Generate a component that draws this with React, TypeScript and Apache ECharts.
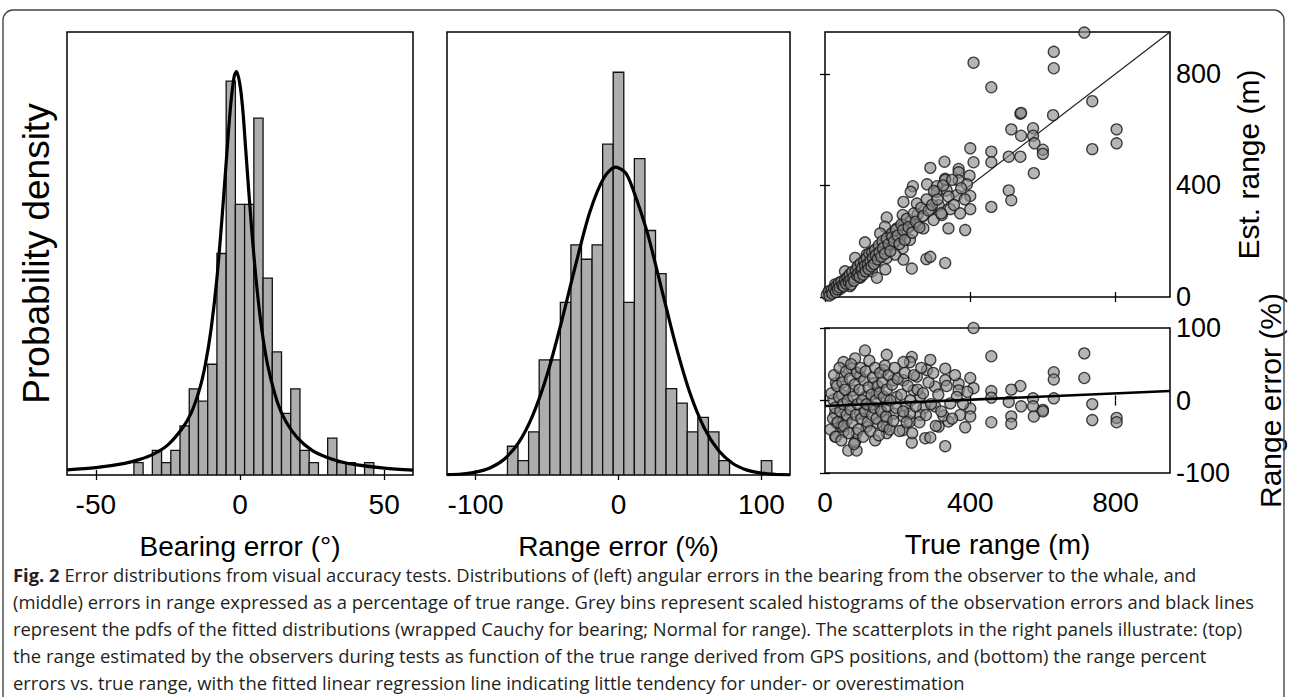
import React, { useEffect, useRef } from "react";
import * as echarts from "echarts";

// ---------- data ----------
const bearingTicks = [-50, 0, 50];
const bearingBinWidth = 3.2;
const bearingBinCenters = [-35.2, -28.8, -25.6, -22.4, -19.2, -16, -12.8, -9.6, -6.4, -3.2, 0, 3.2, 6.4, 9.6, 12.8, 16, 19.2, 22.4, 25.6, 32, 35.2, 38.4, 44.8];
const bearingCounts = [1, 2, 1, 2, 4, 7, 6, 9, 18, 32, 22, 22, 29, 16, 10, 5, 7, 2, 1, 3, 1, 1, 1];
const bearingCurve = [
  [-60, 0.42], [-50, 0.6], [-40, 0.95], [-35, 1.25], [-30, 1.7], [-25, 2.45], [-20, 3.8], [-17, 5.0], [-14, 7.0],
  [-12, 9.0], [-10, 11.9], [-8, 16.0], [-6, 21.6], [-4, 27.9], [-3, 30.6], [-2, 32.4], [-1.2, 32.8], [0, 31.7],
  [1, 29.6], [2, 26.4], [4, 20.1], [6, 14.9], [8, 11.1], [10, 8.5], [13, 5.9], [16, 4.3], [20, 3.0], [25, 2.0],
  [30, 1.45], [35, 1.08], [40, 0.84], [50, 0.56], [60, 0.4],
];

const rangeTicks = [-100, 0, 100];
const rangeBinWidth = 7.4;
const rangeBinCenters = [-74, -66.6, -59.2, -51.8, -44.4, -37, -29.6, -22.2, -14.8, -7.4, 0, 7.4, 14.8, 22.2, 29.6, 37, 44.4, 51.8, 59.2, 66.6, 74, 103.6];
const rangeCounts = [2, 1, 3, 8, 8, 12, 16, 15, 16, 23, 28, 12, 22, 17, 14, 6, 5, 3, 4, 3, 1, 1];
const rangeCurve = [
  [-120, 0.02], [-110, 0.07], [-100, 0.2], [-90, 0.49], [-80, 1.1], [-70, 2.23], [-60, 4.15], [-50, 6.95],
  [-40, 10.6], [-30, 14.6], [-20, 18.3], [-10, 20.7], [-2, 21.4], [5, 21.0], [10, 19.9], [20, 16.9], [30, 13.0],
  [40, 9.05], [50, 5.7], [60, 3.27], [70, 1.7], [80, 0.8], [90, 0.34], [100, 0.13], [110, 0.04], [120, 0.015],
];

const trueRangeTicks = [0, 400, 800];
const estRangeTicks = [0, 400, 800];
const rangeErrTicks = [-100, 0, 100];

const estRangePoints = [
  [714, 948], [409, 840], [630, 879], [630, 820], [458, 752], [736, 702], [538, 657], [540, 660], [628, 652],
  [513, 601], [573, 605], [540, 578], [803, 601], [803, 551], [736, 530], [573, 578], [577, 551], [600, 528],
  [600, 513], [400, 533], [458, 521], [506, 503], [538, 503], [458, 483], [409, 483], [575, 444], [329, 485],
  [290, 463], [368, 459], [368, 447], [398, 435], [331, 424], [331, 420], [368, 418], [391, 404], [281, 404],
  [242, 397], [236, 377], [308, 397], [308, 377], [335, 382], [363, 365], [400, 362], [506, 382], [513, 347],
  [458, 323], [400, 315], [372, 300], [345, 315], [313, 329], [290, 315], [253, 335], [216, 341], [214, 294],
  [234, 270], [255, 296], [255, 258], [271, 246], [299, 276], [322, 294], [340, 246], [386, 240], [170, 285],
  [165, 252], [216, 258], [211, 220], [234, 205], [110, 196], [152, 228], [179, 187], [214, 175], [216, 134],
  [239, 102], [279, 136], [290, 144], [331, 122], [170, 140], [138, 122], [115, 152], [83, 140], [89, 104],
  [55, 92], [51, 57], [28, 45], [23, 22], [69, 39], [97, 69], [129, 92], [143, 69], [166, 99], [170, 164],
  [193, 199], [193, 152], [133, 164], [156, 181], [184, 228], [198, 246], [41, 28], [60, 69], [14, 16],
  [5, 8], [10, 20], [12, 5], [18, 25], [20, 12], [25, 30], [30, 18], [32, 40], [35, 28], [38, 50], [40, 35],
  [45, 55], [48, 42], [52, 38], [55, 60], [58, 48], [62, 70], [65, 55], [68, 80], [70, 62], [72, 45], [75, 90],
  [78, 70], [80, 58], [85, 95], [88, 78], [90, 110], [92, 85], [95, 72], [98, 120], [100, 95], [102, 105],
  [105, 80], [108, 130], [110, 112], [112, 92], [115, 140], [118, 118], [120, 100], [122, 155], [125, 130],
  [128, 110], [130, 160], [132, 140], [135, 118], [138, 170], [140, 150], [145, 135], [148, 185], [150, 160],
  [155, 145], [158, 200], [160, 175], [165, 155], [170, 210], [175, 190], [180, 165], [185, 215], [190, 200],
  [195, 240], [200, 220], [205, 190], [210, 260], [215, 240], [220, 205], [225, 280], [230, 250], [240, 230],
  [245, 300], [250, 270], [260, 250], [265, 320], [270, 290], [280, 350], [285, 310], [295, 330], [300, 380],
  [310, 350], [320, 300], [325, 400], [340, 360], [350, 420], [355, 330], [375, 390], [385, 350],
];

const rangeErrorPoints = [
  [409, 100], [458, 61], [714, 65], [714, 31], [630, 39], [630, 29], [630, 3], [736, -5], [736, -27], [803, -24],
  [803, -30], [538, 20], [540, -8], [513, 15], [513, -22], [513, -32], [506, -2], [458, 13], [458, 4], [458, -30],
  [573, 3], [573, -8], [575, -22], [600, -13], [600, -15], [400, 31], [409, 17], [400, -11], [400, -22],
  [386, -37], [368, 23], [368, 14], [372, -20], [340, -29], [331, -63], [331, 44], [331, 28], [290, 56],
  [281, 42], [239, 60], [234, 53], [216, 53], [170, 63], [110, 69], [83, 58], [51, 53], [161, 42], [74, 44],
  [30, 24], [28, -50], [64, -69], [87, -69], [83, -57], [138, -55], [239, -58], [276, -52], [290, -51],
  [214, -41], [170, -45], [326, -21], [253, 33], [216, 28], [189, 28], [133, 24], [97, 33], [46, 33], [244, 14],
  [262, 5], [303, 19], [303, -8], [225, -8], [216, -22], [234, -29], [271, -11], [262, -20], [189, -18],
  [170, -27], [170, -36], [143, -31], [115, -36], [87, -45], [51, -43], [32, -31], [28, -18], [23, 1], [46, 8],
  [78, 14], [110, 5], [143, 10], [170, 1], [69, -8], [97, -18], [124, -8], [152, -13], [60, -27], [46, -36],
  [198, 5], [363, 5], [345, -4], [313, -36], [234, -18],
  [15, -40], [18, 10], [22, -25], [25, 35], [28, -10], [30, -50], [33, 20], [35, -30], [38, 5], [40, 45],
  [42, -15], [45, -55], [48, 25], [50, -5], [52, -35], [55, 15], [58, 40], [60, -20], [62, 0], [65, -45],
  [68, 30], [70, -12], [72, 50], [75, -30], [78, 5], [80, -60], [82, 22], [85, -20], [88, 38], [90, -5],
  [92, -40], [95, 15], [98, 45], [100, -25], [102, 0], [105, -50], [108, 28], [110, -15], [112, 40], [115, -5],
  [118, -30], [120, 18], [122, 55], [125, -42], [128, 8], [130, -20], [132, 32], [135, -10], [138, 45], [140, 0],
  [142, -25], [145, 20], [148, -48], [150, 10], [152, 38], [155, -15], [158, 25], [160, -35], [162, 5],
  [165, 48], [168, -22], [170, 15], [172, -8], [175, 35], [178, -40], [180, 0], [185, 22], [188, -28],
  [192, 45], [195, -10], [200, 30], [205, -42], [210, 8], [215, -15], [220, 38], [225, -30], [228, 20],
  [235, 0], [240, -45], [245, 35], [250, -8], [255, 15], [260, -30], [265, 45], [270, 10], [278, -20],
  [285, 25], [292, -5], [298, 38], [305, -35], [312, 8], [320, -15], [335, 20], [350, -25], [358, 35],
  [380, -5], [392, 12],
];

const identityLine = [[0, 0], [950, 950]];
const regressionLine = [[0, -7.5], [950, 13]];

const captionLines = [
  "{b|Fig. 2} Error distributions from visual accuracy tests. Distributions of (left) angular errors in the bearing from the observer to the whale, and",
  "(middle) errors in range expressed as a percentage of true range. Grey bins represent scaled histograms of the observation errors and black lines",
  "represent the pdfs of the fitted distributions (wrapped Cauchy for bearing; Normal for range). The scatterplots in the right panels illustrate: (top)",
  "the range estimated by the observers during tests as function of the true range derived from GPS positions, and (bottom) the range percent",
  "errors vs. true range, with the fitted linear regression line indicating little tendency for under- or overestimation",
];

// ---------- helpers ----------
const FONT = "'Liberation Sans', Arial, sans-serif";
const LABEL = { color: "#000", fontSize: 28, fontFamily: FONT };
const CAP_FONT = "'Open Sans', sans-serif";

function histRender(binWidth: number) {
  return (params: any, api: any) => {
    const c = api.value(0);
    const v = api.value(1);
    const p0 = api.coord([c - binWidth / 2, v]);
    const p1 = api.coord([c + binWidth / 2, 0]);
    return {
      type: "rect",
      shape: { x: p0[0], y: p0[1], width: p1[0] - p0[0], height: p1[1] - p0[1] },
      style: { fill: "#adadad", stroke: "#111", lineWidth: 1.3 },
    };
  };
}

function xPair(grid: number, min: number, max: number, ticks: number[], showLabels: boolean, name: string) {
  return [
    {
      type: "value", gridIndex: grid, position: "bottom", min, max,
      axisLine: { show: false },
      splitLine: { show: false },
      axisTick: { show: true, inside: true, length: 5, customValues: ticks, lineStyle: { color: "#000", width: 1.3 } },
      axisLabel: { show: showLabels, customValues: ticks, margin: 15, ...LABEL },
      name, nameLocation: "middle", nameGap: 57,
      nameTextStyle: { color: "#000", fontSize: 28, fontFamily: FONT },
    },
    {
      type: "value", gridIndex: grid, position: "top", min, max,
      axisLine: { show: false },
      splitLine: { show: false },
      axisTick: { show: true, inside: true, length: 5, customValues: ticks, lineStyle: { color: "#000", width: 1.3 } },
      axisLabel: { show: false },
    },
  ];
}

function yPair(grid: number, min: number, max: number, ticks: number[] | null, labelsRight: boolean,
  name: string, nameGap: number, leftName: string) {
  const tick = ticks
    ? { show: true, inside: true, length: 5, customValues: ticks, lineStyle: { color: "#000", width: 1.3 } }
    : { show: false };
  return [
    {
      type: "value", gridIndex: grid, position: "left", min, max,
      axisLine: { show: false }, splitLine: { show: false },
      axisTick: tick, axisLabel: { show: false },
      name: leftName, nameLocation: "middle", nameGap: 12,
      nameTextStyle: { color: "#000", fontSize: 37, fontFamily: FONT },
    },
    {
      type: "value", gridIndex: grid, position: "right", min, max,
      axisLine: { show: false }, splitLine: { show: false },
      axisTick: tick,
      axisLabel: labelsRight ? { show: true, customValues: ticks, margin: 6, ...LABEL, fontSize: 27 } : { show: false },
      name, nameLocation: "middle", nameGap,
      nameTextStyle: { color: "#000", fontSize: 30, fontFamily: FONT },
    },
  ];
}

export default function App() {
  const ref = useRef<HTMLDivElement>(null);
  useEffect(() => {
    if (!ref.current) return;
    const chart = echarts.init(ref.current, null, { renderer: "svg" });
    const gridBase = { show: true, borderColor: "#000", borderWidth: 1.5, backgroundColor: "#fff" };
    const scatterStyle = { color: "rgba(140,140,140,0.8)", borderColor: "#151515", borderWidth: 1.3 };
    const option: any = {
      animation: false,
      backgroundColor: "#fff",
      grid: [
        { ...gridBase, left: 67, top: 32, width: 346, height: 443 },
        { ...gridBase, left: 447, top: 32, width: 343, height: 443 },
        { ...gridBase, left: 825, top: 32, width: 345, height: 265 },
        { ...gridBase, left: 825, top: 328, width: 345, height: 145 },
      ],
      xAxis: [
        ...xPair(0, -60, 60, bearingTicks, true, "Bearing error (°)"),
        ...xPair(1, -120, 120, rangeTicks, true, "Range error (%)"),
        ...xPair(2, 0, 950, trueRangeTicks, false, ""),
        ...xPair(3, 0, 950, trueRangeTicks, true, "True range (m)"),
      ],
      yAxis: [
        ...yPair(0, 0, 36, null, false, "", 0, "Probability density"),
        ...yPair(1, 0, 30.8, null, false, "", 0, ""),
        ...yPair(2, 0, 950, estRangeTicks, true, "Est. range (m)", 63, ""),
        ...yPair(3, -100, 100, rangeErrTicks, true, "Range error (%)", 85, ""),
      ],
      series: [
        {
          type: "custom", xAxisIndex: 0, yAxisIndex: 0, clip: true,
          renderItem: histRender(bearingBinWidth),
          data: bearingBinCenters.map((c, i) => [c, bearingCounts[i]]),
        },
        {
          type: "line", xAxisIndex: 0, yAxisIndex: 0, data: bearingCurve, smooth: 0.3, symbol: "none",
          lineStyle: { color: "#000", width: 3.2 }, z: 5,
        },
        {
          type: "custom", xAxisIndex: 2, yAxisIndex: 2, clip: true,
          renderItem: histRender(rangeBinWidth),
          data: rangeBinCenters.map((c, i) => [c, rangeCounts[i]]),
        },
        {
          type: "line", xAxisIndex: 2, yAxisIndex: 2, data: rangeCurve, smooth: 0.3, symbol: "none",
          lineStyle: { color: "#000", width: 3.2 }, z: 5,
        },
        {
          type: "line", xAxisIndex: 4, yAxisIndex: 5, data: identityLine, symbol: "none",
          lineStyle: { color: "#222", width: 1.2 }, z: 1,
        },
        {
          type: "scatter", xAxisIndex: 4, yAxisIndex: 5, data: estRangePoints, symbolSize: 11,
          itemStyle: scatterStyle, z: 3,
        },
        {
          type: "scatter", xAxisIndex: 6, yAxisIndex: 7, data: rangeErrorPoints, symbolSize: 11,
          itemStyle: scatterStyle, z: 3,
        },
        {
          type: "line", xAxisIndex: 6, yAxisIndex: 7, data: regressionLine, symbol: "none",
          lineStyle: { color: "#000", width: 2.6 }, z: 4,
        },
      ],
      graphic: [
        {
          type: "rect", silent: true, z: 100,
          shape: { x: 3, y: 10, width: 1281, height: 740, r: 10 },
          style: { fill: "none", stroke: "#444", lineWidth: 1.4 },
        },
        ...captionLines.map((t, i) => ({
          type: "text", left: 13, top: 563 + i * 27.2, silent: true,
          style: {
            text: t, fill: "#231f20", fontSize: 18.4, fontFamily: CAP_FONT, lineHeight: 22,
            rich: { b: { fontWeight: "bold", fontSize: 18.4, fontFamily: CAP_FONT, fill: "#231f20", lineHeight: 22 } },
          },
        })),
      ],
    };
    chart.setOption(option);
    return () => chart.dispose();
  }, []);
  return <div ref={ref} style={{ position: "fixed", left: 0, top: 0, width: 1290, height: 697 }} />;
}
